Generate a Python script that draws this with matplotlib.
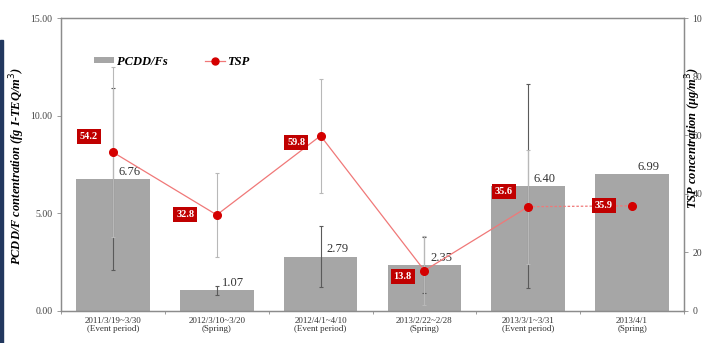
import matplotlib
matplotlib.use("Agg")
import matplotlib.pyplot as plt
import numpy as np
from matplotlib.patches import Rectangle
from matplotlib.lines import Line2D
from matplotlib.patches import Patch

# ---- data ----
periods = ["2011/3/19~3/30", "2012/3/10~3/20", "2012/4/1~4/10",
           "2013/2/22~2/28", "2013/3/1~3/31", "2013/4/1"]
seasons = ["(Event period)", "(Spring)", "(Event period)",
           "(Spring)", "(Event period)", "(Spring)"]
pcdd = [6.76, 1.07, 2.79, 2.35, 6.40, 6.99]
pcdd_err = [4.64, 0.23, 1.55, 1.45, 5.20, np.nan]
tsp = [54.2, 32.8, 59.8, 13.8, 35.6, 35.9]
tsp_err = [29.1, 14.4, 19.5, 11.8, 19.5, np.nan]
left_ticks = [0, 5, 10, 15]
right_ticks = [0, 20, 40, 60, 80, 100]

# label offsets for TSP value boxes (points)
tsp_label_offsets = [(-11, 11), (-16, 0), (-11, -5), (-9, -4), (-11, 11), (-14, 0)]

serif = ["Liberation Serif", "DejaVu Serif"]
plt.rcParams["font.family"] = serif

fig = plt.figure(figsize=(7.02, 3.43), dpi=100)
ax = fig.add_axes([61 / 702, 1 - 311 / 343, (684 - 61) / 702, (311 - 18) / 343])
ax2 = ax.twinx()

x = np.arange(len(periods))
spine_c = "#8c8c8c"

bars = ax.bar(x, pcdd, width=0.71, color="#a6a6a6", zorder=1)
ax.errorbar(x, pcdd, yerr=pcdd_err, fmt="none", ecolor="#5a5a5a",
            elinewidth=0.8, capsize=1.5, capthick=0.8, zorder=3)
for xi, v in zip(x, pcdd):
    ax.annotate(f"{v:.2f}", (xi, v), xytext=(4, 1), textcoords="offset points",
                ha="left", va="bottom", fontsize=9, color="#333333")

ax.set_xlim(-0.5, len(periods) - 0.5)
ax.set_ylim(0, 15)
ax.set_yticks(left_ticks)
ax.set_yticklabels([f"{t:.2f}" for t in left_ticks], fontsize=7, color="#444444")
ax.set_xticks(x)
ax.set_xticklabels([f"{p}\n{s}" for p, s in zip(periods, seasons)],
                   fontsize=6.5, color="#333333", linespacing=1.1)
ax.tick_params(axis="x", length=0, pad=4)
ax.set_xticks(np.arange(len(periods) + 1) - 0.5, minor=True)
ax.tick_params(axis="x", which="minor", length=2, color=spine_c)
ax.tick_params(axis="y", length=3, color=spine_c, width=0.6, pad=3)

fig.text(17 / 702, 1 - 166 / 343, "PCDD/F contentration (fg I-TEQ/m$^3$)",
         rotation=90, ha="center", va="center", fontsize=9,
         fontweight="bold", fontstyle="italic")

# TSP on secondary axis
ax2.set_ylim(0, 100)
ax2.set_yticks(right_ticks)
ax2.set_yticklabels([str(t) for t in right_ticks], fontsize=7, color="#444444")
ax2.tick_params(axis="y", length=3, color=spine_c, width=0.6, pad=3)
ax2.errorbar(x, tsp, yerr=tsp_err, fmt="none", ecolor="#b8b8b8",
             elinewidth=0.8, capsize=1.5, capthick=0.8, zorder=2)
line_c = "#f07878"
ax2.plot(x[:-1], tsp[:-1], color=line_c, lw=0.9, zorder=4)
ax2.plot(x[-2:], tsp[-2:], color=line_c, lw=0.9, ls=(0, (2, 1.5)), zorder=4)
ax2.plot(x, tsp, ls="none", marker="o", ms=5.5, color="#d40000", zorder=5)
for xi, v, off in zip(x, tsp, tsp_label_offsets):
    ax2.annotate(f"{v:.1f}", (xi, v), xytext=off, textcoords="offset points",
                 ha="right", va="center", fontsize=7.5, fontweight="bold",
                 color="white", zorder=6,
                 bbox=dict(boxstyle="square,pad=0.28", fc="#c00000", ec="none"))

for a in (ax, ax2):
    for s in a.spines.values():
        s.set_color(spine_c)
        s.set_linewidth(0.9)

handles = [Patch(facecolor="#a6a6a6", edgecolor="none"),
           Line2D([], [], color=line_c, lw=0.9, marker="o", ms=5,
                  markerfacecolor="#d40000", markeredgecolor="#d40000")]
leg = ax.legend(handles, ["PCDD/Fs", "TSP"], ncol=2, frameon=False,
                loc="upper left", bbox_to_anchor=(0.035, 0.91),
                prop=dict(family=serif, weight="bold", style="italic", size=9),
                handlelength=1.6, handleheight=0.35, handletextpad=0.2,
                columnspacing=3.0)

fig.text(693 / 702, 1 - 138 / 343, "TSP concentration (\u03bcg/m$^3$)",
         rotation=90, ha="center", va="center", fontsize=9,
         fontweight="bold", fontstyle="italic")

# dark edge strip along the left side
fig.patches.append(Rectangle((0, 0), 3 / 702, 1 - 40 / 343,
                             transform=fig.transFigure, color="#22385f",
                             zorder=0))

fig.savefig("out.png", dpi=100)
